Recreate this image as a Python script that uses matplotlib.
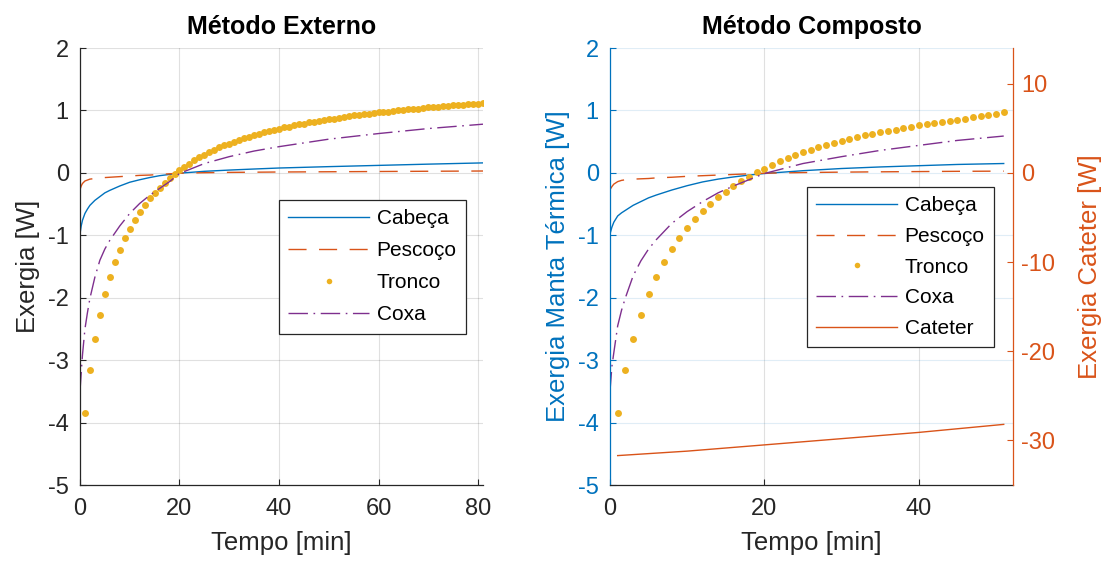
import matplotlib
matplotlib.use("Agg")
import matplotlib.pyplot as plt
from matplotlib.lines import Line2D

plt.rcParams['font.family'] = ['Liberation Sans', 'DejaVu Sans']
plt.rcParams['axes.unicode_minus'] = False

# ---------------- data ----------------
series_names = ["Cabeça", "Pescoço", "Tronco", "Coxa", "Cateter"]

# Left panel (Método Externo)
t_lines_L = [0, 0.25, 0.5, 1, 1.5, 2, 3, 4, 5, 6, 8, 10, 12, 14, 16, 18, 20,
             25, 30, 35, 40, 50, 60, 70, 81]
cabeca_L = [-0.98, -0.85, -0.76, -0.65, -0.58, -0.52, -0.44, -0.38, -0.32, -0.28,
            -0.21, -0.15, -0.11, -0.075, -0.045, -0.025, -0.005,
            0.025, 0.045, 0.062, 0.078, 0.10, 0.12, 0.14, 0.16]
pescoco_L = [-0.27, -0.21, -0.17, -0.13, -0.115, -0.10, -0.09, -0.08, -0.075, -0.07,
             -0.06, -0.05, -0.04, -0.035, -0.025, -0.015, -0.005,
             0.003, 0.008, 0.011, 0.014, 0.018, 0.022, 0.026, 0.03]
coxa_L = [-3.50, -3.20, -2.92, -2.50, -2.24, -2.01, -1.67, -1.40, -1.22, -1.08,
          -0.85, -0.65, -0.49, -0.36, -0.25, -0.14, -0.01,
          0.15, 0.26, 0.35, 0.42, 0.54, 0.63, 0.71, 0.78]
t_tronco_L = list(range(1, 82))
tronco_L = [-3.85, -3.16, -2.66, -2.27, -1.94, -1.67, -1.43, -1.23, -1.05, -0.90,
            -0.75, -0.62, -0.51, -0.41, -0.32, -0.24, -0.16, -0.09, -0.02, 0.04,
            0.10, 0.15, 0.20, 0.25, 0.29, 0.33, 0.37, 0.41, 0.44, 0.47,
            0.50, 0.53, 0.56, 0.58, 0.61, 0.63, 0.65, 0.67, 0.69, 0.71,
            0.73, 0.74, 0.76, 0.78, 0.79, 0.81, 0.82, 0.83, 0.85, 0.86,
            0.87, 0.88, 0.89, 0.91, 0.92, 0.93, 0.94, 0.95, 0.96, 0.97,
            0.97, 0.98, 0.99, 1.00, 1.01, 1.02, 1.02, 1.03, 1.04, 1.05,
            1.05, 1.06, 1.07, 1.07, 1.08, 1.09, 1.09, 1.10, 1.10, 1.11, 1.12]

# Right panel (Método Composto)
t_lines_R = [0, 0.25, 0.5, 1, 1.5, 2, 3, 4, 5, 6, 8, 10, 12, 14, 16, 18, 20,
             25, 30, 35, 40, 45, 51]
cabeca_R = [-0.98, -0.87, -0.79, -0.69, -0.64, -0.60, -0.52, -0.46, -0.40, -0.355,
            -0.275, -0.205, -0.145, -0.10, -0.065, -0.035, -0.01,
            0.035, 0.07, 0.095, 0.115, 0.135, 0.15]
pescoco_R = [-0.27, -0.22, -0.18, -0.14, -0.12, -0.11, -0.10, -0.095, -0.09, -0.08,
             -0.07, -0.055, -0.045, -0.035, -0.025, -0.015, -0.005,
             0.005, 0.012, 0.017, 0.021, 0.025, 0.028]
coxa_R = [-3.50, -3.10, -2.88, -2.45, -2.20, -2.00, -1.65, -1.41, -1.22, -1.07,
          -0.81, -0.62, -0.46, -0.32, -0.21, -0.11, -0.01,
          0.15, 0.26, 0.36, 0.44, 0.52, 0.59]
t_tronco_R = list(range(1, 52))
tronco_R = [-3.85, -3.16, -2.66, -2.27, -1.94, -1.66, -1.43, -1.22, -1.04, -0.88,
            -0.74, -0.61, -0.50, -0.39, -0.30, -0.21, -0.13, -0.06, 0.01, 0.07,
            0.13, 0.19, 0.24, 0.29, 0.33, 0.37, 0.41, 0.44, 0.48, 0.51,
            0.54, 0.57, 0.60, 0.62, 0.65, 0.67, 0.69, 0.72, 0.74, 0.76,
            0.78, 0.80, 0.82, 0.83, 0.85, 0.87, 0.89, 0.91, 0.93, 0.95, 0.97]
t_cateter = [1, 10, 20, 30, 40, 51]
cateter = [-31.7, -31.2, -30.5, -29.8, -29.1, -28.2]

x_ticks_L = [0, 20, 40, 60, 80]
x_ticks_R = [0, 20, 40]
y_ticks = [-5, -4, -3, -2, -1, 0, 1, 2]
y2_ticks = [-30, -20, -10, 0, 10]

# ---------------- style ----------------
C_BLUE = '#0072BD'
C_ORANGE = '#D95319'
C_YELLOW = '#EDB120'
C_PURPLE = '#7E2F8E'
C_AX = '#262626'
LW = 1.0
DASH = (0, (13, 9))
DASHDOT = (0, (14, 4, 1.2, 4))
TICK_FS = 17
LABEL_FS = 18.5
TITLE_FS = 18
LEG_FS = 15

fig = plt.figure(figsize=(11.06, 5.63), dpi=100)
axL = fig.add_axes([0.0723, 0.1385, 0.3644, 0.7762])
axR = fig.add_axes([0.5515, 0.1385, 0.3644, 0.7762])


def style_axis(ax, xlim, xticks):
    ax.set_xlim(*xlim)
    ax.set_ylim(-5, 2)
    ax.set_xticks(xticks)
    ax.set_yticks(y_ticks)
    ax.tick_params(direction='in', length=4, width=0.8, labelsize=TICK_FS,
                   colors=C_AX)
    ax.tick_params(axis='x', pad=9)
    ax.tick_params(axis='y', pad=8)
    ax.spines['top'].set_visible(False)
    ax.spines['right'].set_visible(False)
    for s in ['left', 'bottom']:
        ax.spines[s].set_color(C_AX)
        ax.spines[s].set_linewidth(0.9)
    ax.set_axisbelow(True)
    ax.grid(True, color='#000000', alpha=0.12, linewidth=0.8)


def draw_series(ax, tl, cab, pes, tt, tro, cox):
    h1, = ax.plot(tl, cab, color=C_BLUE, lw=LW, label=series_names[0])
    h2, = ax.plot(tl, pes, color=C_ORANGE, lw=LW, linestyle=DASH, label=series_names[1])
    h3, = ax.plot(tt, tro, linestyle='none', marker='o', markersize=5.0,
                  markeredgewidth=0, color=C_YELLOW, label=series_names[2])
    h4, = ax.plot(tl, cox, color=C_PURPLE, lw=LW, linestyle=DASHDOT, label=series_names[3])
    return [h1, h2, h3, h4]


def leg_handles(hs):
    out = []
    for h in hs:
        if h.get_marker() == 'o':
            out.append(Line2D([], [], linestyle='none', marker='o', markersize=4.0,
                              markeredgewidth=0, color=h.get_color()))
        else:
            out.append(h)
    return out


# ---------- left panel ----------
style_axis(axL, (0, 81), x_ticks_L)
hL = draw_series(axL, t_lines_L, cabeca_L, pescoco_L, t_tronco_L, tronco_L, coxa_L)
axL.set_title('Método Externo', fontsize=TITLE_FS, fontweight='bold', pad=10)
axL.set_xlabel('Tempo [min]', fontsize=LABEL_FS, color=C_AX, labelpad=8)
axL.set_ylabel('Exergia [W]', fontsize=LABEL_FS, color=C_AX, labelpad=6)

legL = axL.legend(leg_handles(hL), series_names[:4], loc='upper right',
                  bbox_to_anchor=(0.958, 0.652), fontsize=LEG_FS, frameon=True,
                  fancybox=False, framealpha=1, edgecolor=C_AX, handlelength=3.9,
                  handletextpad=0.35, labelspacing=0.62, borderpad=0.45,
                  borderaxespad=0)
legL.get_frame().set_linewidth(0.9)

# ---------- right panel ----------
style_axis(axR, (0, 52.2), x_ticks_R)
axR.xaxis.grid(True, color='#000000', alpha=0.12, linewidth=0.8)
axR.yaxis.grid(True, color=C_BLUE, alpha=0.12, linewidth=0.8)
axR.spines['left'].set_color(C_BLUE)
axR.tick_params(axis='y', colors=C_BLUE)
hR = draw_series(axR, t_lines_R, cabeca_R, pescoco_R, t_tronco_R, tronco_R, coxa_R)
axR.set_title('Método Composto', fontsize=TITLE_FS, fontweight='bold', pad=10)
axR.set_xlabel('Tempo [min]', fontsize=LABEL_FS, color=C_AX, labelpad=8)
axR.set_ylabel('Exergia Manta Térmica [W]', fontsize=LABEL_FS, color=C_BLUE, labelpad=6)

ax2 = axR.twinx()
ax2.set_ylim(-35, 14)
ax2.set_yticks(y2_ticks)
ax2.tick_params(axis='y', direction='in', length=4, width=0.8, labelsize=TICK_FS,
                colors=C_ORANGE, pad=6)
for s in ['top', 'left', 'bottom']:
    ax2.spines[s].set_visible(False)
ax2.spines['right'].set_color(C_ORANGE)
ax2.spines['right'].set_linewidth(0.9)
h5, = ax2.plot(t_cateter, cateter, color=C_ORANGE, lw=LW, label=series_names[4])
ax2.set_ylabel('Exergia Cateter [W]', fontsize=LABEL_FS, color=C_ORANGE, labelpad=16)

legR = ax2.legend(leg_handles(hR) + [h5], series_names, loc='upper right',
                  bbox_to_anchor=(0.953, 0.682), fontsize=LEG_FS, frameon=True,
                  fancybox=False, framealpha=1, edgecolor=C_AX, handlelength=3.9,
                  handletextpad=0.35, labelspacing=0.56, borderpad=0.45,
                  borderaxespad=0)
legR.get_frame().set_linewidth(0.9)

fig.savefig('out.png', dpi=100)
